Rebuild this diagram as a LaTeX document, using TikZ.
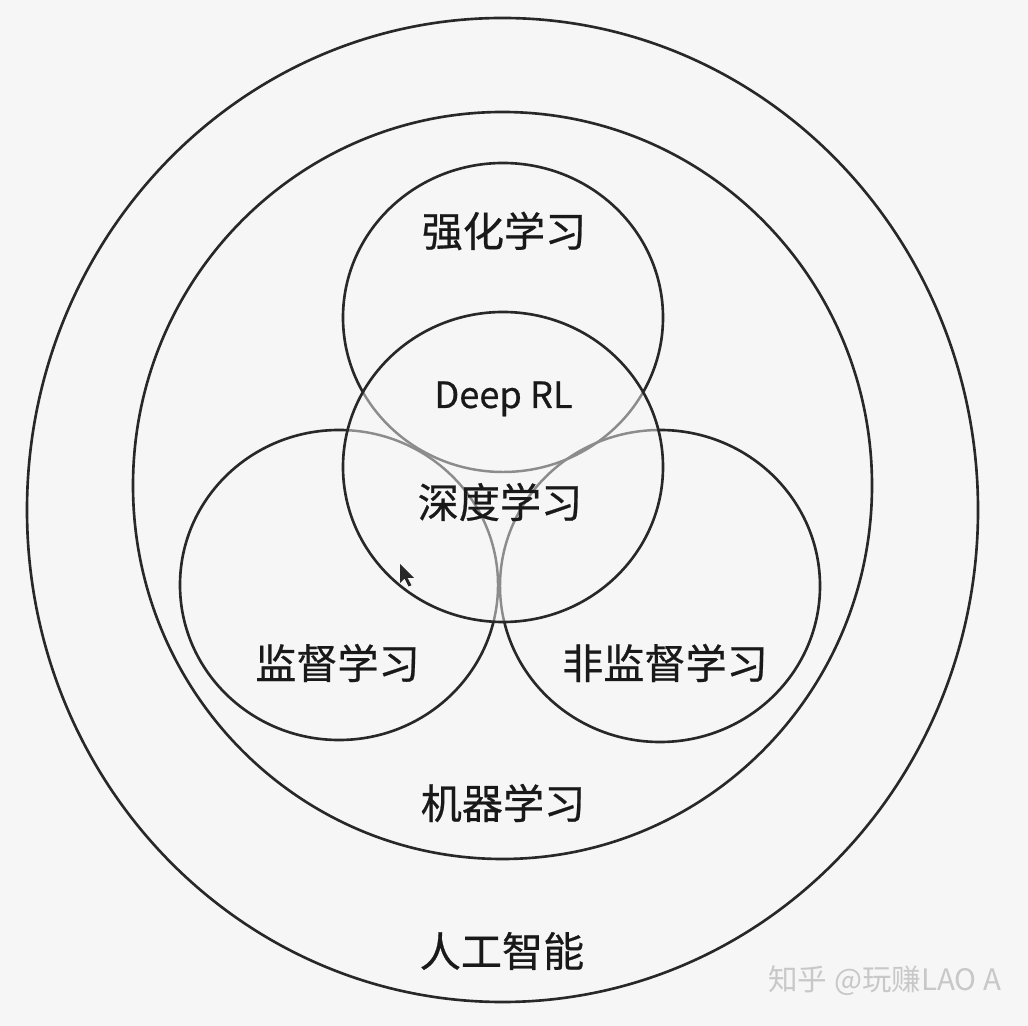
\documentclass[tikz,border=0pt]{standalone}
\usepackage{fontspec}
\setmainfont{Noto Sans CJK SC}
\newfontfamily\heavycjk{Noto Sans CJK SC}[FakeBold=0.6]
\definecolor{paper}{RGB}{246,246,246}
\definecolor{ink}{RGB}{40,40,40}
\definecolor{faint}{RGB}{140,140,140}
\definecolor{mark}{RGB}{200,200,200}

\begin{document}
\begin{tikzpicture}[
  ring/.style={draw=ink, line width=0.75pt},
  inring/.style={draw=faint, line width=0.7pt},
  lbl/.style={inner sep=0pt, text=black!90, font=\heavycjk\fontsize{11.7pt}{14pt}\selectfont},
  wmark/.style={inner sep=0pt, text=mark, font=\fontsize{8.4pt}{10pt}\selectfont}
]

\fill[paper] (0,0) rectangle (10.28,-10.26);
\useasboundingbox (0,0) rectangle (10.28,-10.26);

\coordinate (AI) at (5.025, -5.10);
\coordinate (ML) at (5.025, -4.855);
\coordinate (RL) at (5.03, -3.175);
\coordinate (DL) at (5.03, -4.67);
\coordinate (SL) at (3.39, -5.85);
\coordinate (UL) at (6.60, -5.86);
\coordinate (cur) at (4.00, -5.64);

\draw[ring] (AI) ellipse [x radius=4.755, y radius=4.92];
\draw[ring] (ML) ellipse [x radius=3.695, y radius=3.735];

\draw[ring] (RL) ellipse [x radius=1.60, y radius=1.545];
\draw[ring] (SL) ellipse [x radius=1.59, y radius=1.55];
\draw[ring] (UL) ellipse [x radius=1.60, y radius=1.56];

\fill[paper] (DL) ellipse [x radius=1.60, y radius=1.55];
\begin{scope}
  \clip (DL) ellipse [x radius=1.60, y radius=1.55];
  \draw[inring] (RL) ellipse [x radius=1.60, y radius=1.545];
  \draw[inring] (SL) ellipse [x radius=1.59, y radius=1.55];
  \draw[inring] (UL) ellipse [x radius=1.60, y radius=1.56];
\end{scope}
\draw[ring] (DL) ellipse [x radius=1.60, y radius=1.55];

\node[lbl] (rl) at (5.04, -2.31) {强化学习};
\node[lbl, anchor=base, font=\heavycjk\fontsize{10.3pt}{12pt}\selectfont] (drl) at (5.035, -4.08) {Deep RL};
\node[lbl] (dl) at (5.00, -5.02) {深度学习};
\node[lbl] (sl) at (3.375, -6.63) {监督学习};
\node[lbl] (ul) at (6.65, -6.63) {非监督学习};
\node[lbl] (ml) at (5.03, -8.03) {机器学习};
\node[lbl] (ai) at (5.02, -9.51) {人工智能};

\node[wmark, anchor=east] (zh) at (10.02, -9.81) {知乎 @玩赚LAO A};

\fill[ink] (cur) -- ++(0,-0.19) -- ++(0.045,0.045) -- ++(0.04,-0.08)
  -- ++(0.03,0.012) -- ++(-0.04,0.075) -- ++(0.065,0) -- cycle;

\end{tikzpicture}
\end{document}
